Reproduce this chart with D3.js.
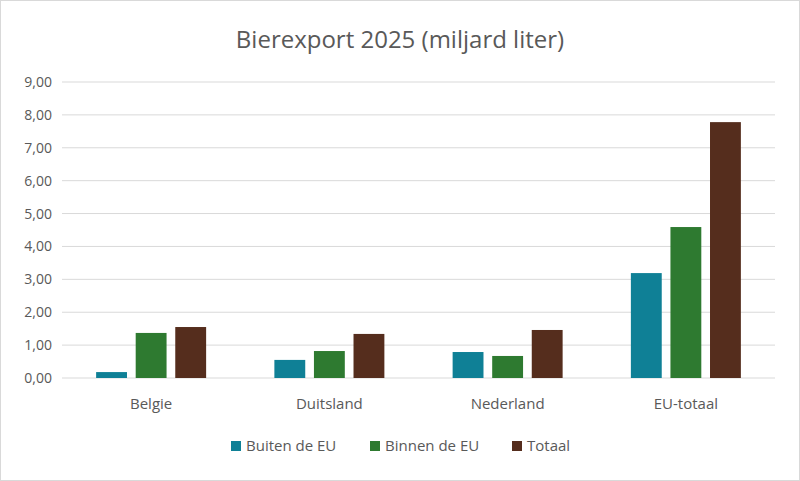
<!DOCTYPE html>
<html><head><meta charset="utf-8">
<script src="https://cdn.jsdelivr.net/npm/d3@7"></script>
<style>body{margin:0;background:#fff;font-family:"Open Sans",sans-serif}</style>
</head><body><svg id="c" width="800" height="481"></svg>
<script>
const categories=["Belgie","Duitsland","Nederland","EU-totaal"];
const seriesNames=["Buiten de EU","Binnen de EU","Totaal"];
const buiten=[0.18,0.55,0.79,3.19];
const binnen=[1.37,0.82,0.67,4.59];
const totaal=[1.55,1.34,1.46,7.78];
const ticks=[0,1,2,3,4,5,6,7,8,9];
const colors=["#0F8096","#2E7A30","#552D1D"];
const series=[buiten,binnen,totaal];
const svg=d3.select("#c");
svg.append("rect").attr("x",0.5).attr("y",0.5).attr("width",799).attr("height",480).attr("fill","#fff").attr("stroke","#d9d9d9");
const x=d3.scaleBand().domain(categories).range([62,775]);
const bw=x.bandwidth();
const xs=d3.scaleBand().domain(d3.range(3)).range([bw/2-55,bw/2+55]).paddingInner(0.22);
const y=d3.scaleLinear().domain([0,9]).range([378,82]);
svg.append("g").selectAll("line").data(ticks).join("line")
 .attr("x1",62).attr("x2",775).attr("y1",d=>y(d)).attr("y2",d=>y(d)).attr("stroke","#d9d9d9");
svg.append("g").selectAll("text").data(ticks).join("text")
 .attr("x",52).attr("y",d=>y(d)+5).attr("text-anchor","end").attr("font-size",14).attr("fill","#595959")
 .text(d=>d3.format(".2f")(d).replace(".",","));
series.forEach((s,i)=>{
 svg.append("g").selectAll("rect").data(s).join("rect")
  .attr("x",(d,j)=>x(categories[j])+xs(i)).attr("width",xs.bandwidth())
  .attr("y",d=>y(d)).attr("height",d=>y(0)-y(d)).attr("fill",colors[i]);
});
svg.append("g").selectAll("text").data(categories).join("text")
 .attr("x",d=>x(d)+bw/2).attr("y",409).attr("text-anchor","middle").attr("font-size",15).attr("fill","#595959").text(d=>d);
svg.append("text").attr("x",400).attr("y",48).attr("text-anchor","middle").attr("font-size",24).attr("fill","#595959").text("Bierexport 2025 (miljard liter)");
const lx=[231,370,512];
seriesNames.forEach((n,i)=>{
 svg.append("rect").attr("x",lx[i]).attr("y",441).attr("width",10).attr("height",10).attr("fill",colors[i]);
 svg.append("text").attr("x",lx[i]+15).attr("y",451).attr("font-size",15).attr("fill","#595959").text(n);
});
</script></body></html>
